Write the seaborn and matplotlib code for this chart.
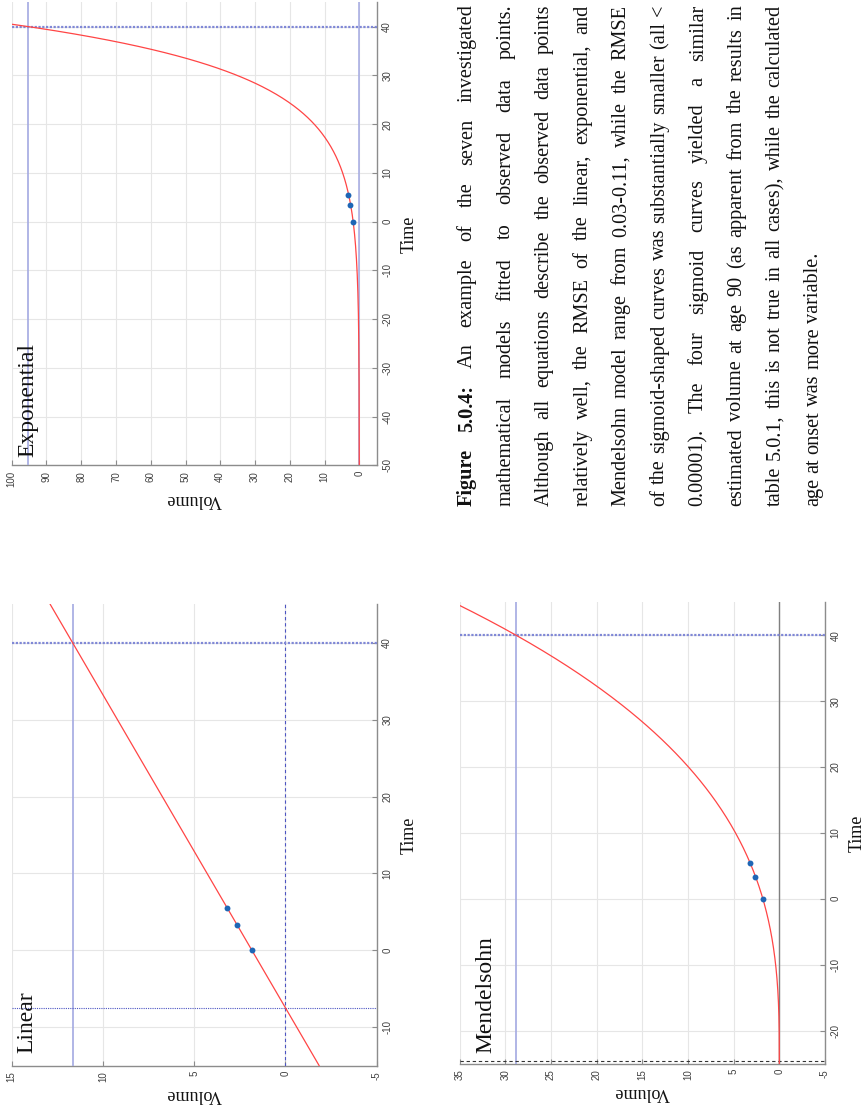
import numpy as np
import pandas as pd
import matplotlib
matplotlib.use("Agg")
import matplotlib.pyplot as plt
import seaborn as sns

# ---------------- data ----------------
time_obs = [0.0, 3.33, 5.5]
vol_obs = [1.82, 2.68, 3.18]
target_time = 40

linear_params = [0.2455, 1.84]          # slope, intercept
exp_params = [1.77, 0.0996]             # a, b   V = a*exp(b t)
mendelsohn_params = [1.8, -24.6, 2.872]  # V(0), onset time, power

linear_vol_target = 11.66
linear_onset = -7.5
exp_vol_target = 95.2
mendelsohn_vol_target = 28.8
mendelsohn_onset = -24.6

linear_vticks = [-5, 0, 5, 10, 15]
linear_tticks = [-10, 0, 10, 20, 30, 40]
exp_vticks = [0, 10, 20, 30, 40, 50, 60, 70, 80, 90, 100]
exp_tticks = [-50, -40, -30, -20, -10, 0, 10, 20, 30, 40]
mend_vticks = [-5, 0, 5, 10, 15, 20, 25, 30, 35]
mend_tticks = [-20, -10, 0, 10, 20, 30, 40]

caption_lines = [
    "Figure 5.0.4: An example of the seven investigated",
    "mathematical models fitted to observed data points.",
    "Although all equations describe the observed data points",
    "relatively well, the RMSE of the linear, exponential, and",
    "Mendelsohn model range from 0.03-0.11, while the RMSE",
    "of the sigmoid-shaped curves was substantially smaller (all <",
    "0.00001). The four sigmoid curves yielded a similar",
    "estimated volume at age 90 (as apparent from the results in",
    "table 5.0.1, this is not true in all cases), while the calculated",
    "age at onset was more variable.",
]

# ---------------- figure ----------------
W_PX, H_PX = 868, 1105
fig = plt.figure(figsize=(W_PX / 100, H_PX / 100), dpi=100)
fig.patch.set_facecolor("white")

SERIF = "Liberation Serif"
SANS = "Liberation Sans"
RED = "#ff4545"
DOT = "#1f66b5"
LIGHTBLUE = "#a3a9e2"
DOTBLUE = "#8088d6"
DARKBLUE = "#4d55c2"
SPINE = "#8c8c8c"


def add_axes_px(left, top, right, bottom):
    return fig.add_axes([left / W_PX, (H_PX - bottom) / H_PX,
                         (right - left) / W_PX, (bottom - top) / H_PX])


def setup(ax, vlim, tlim, vticks, tticks):
    ax.set_xlim(vlim)
    ax.set_ylim(tlim)
    ax.set_facecolor("white")
    ax.set_xticks(vticks)
    ax.set_yticks(tticks)
    ax.set_xticklabels([str(v) for v in vticks], rotation=90, va="top",
                       ha="center", fontsize=7, family=SANS, color="#404040")
    ax.yaxis.tick_right()
    ax.set_yticklabels([str(v) for v in tticks], rotation=90, va="center",
                       ha="left", fontsize=7, family=SANS, color="#404040")
    ax.tick_params(axis="both", direction="in", length=3.5, width=0.8,
                   color=SPINE, pad=4)
    for s in ["top", "left"]:
        ax.spines[s].set_visible(False)
    for s in ["right", "bottom"]:
        ax.spines[s].set_color(SPINE)
        ax.spines[s].set_linewidth(1.0)
    ax.grid(True, color="#e6e6e6", lw=0.8)
    ax.set_axisbelow(True)


def labels(ax):
    ax.set_xlabel("Volume", rotation=180, fontsize=13, family=SERIF,
                  labelpad=3, color="#111111")
    ax.yaxis.set_label_position("right")
    ax.set_ylabel("Time", rotation=90, fontsize=13, family=SERIF,
                  labelpad=6, color="#111111")


def draw_curve(ax, t, v):
    df = pd.DataFrame({"Volume": v, "Time": t})
    sns.lineplot(data=df, x="Volume", y="Time", orient="y", sort=True,
                 estimator=None, color=RED, lw=0.9, ax=ax, zorder=4)


def draw_points(ax):
    df = pd.DataFrame({"Volume": vol_obs, "Time": time_obs})
    sns.scatterplot(data=df, x="Volume", y="Time", color=DOT, s=18,
                    linewidth=0, ax=ax, zorder=5)


def title(x_px, y_px, text):
    fig.text(x_px / W_PX, (H_PX - y_px) / H_PX, text, rotation=90,
             ha="center", va="bottom", fontsize=17, family=SERIF,
             color="#111111")


# ---- Exponential (top-left) ----
ax_e = add_axes_px(11.7, 2.3, 376.7, 465.5)
setup(ax_e, (100, -5), (-50, 45), exp_vticks, exp_tticks)
ax_e.axvline(0, color=LIGHTBLUE, lw=1.1, zorder=3)
ax_e.axvline(exp_vol_target, color=LIGHTBLUE, lw=1.2, zorder=3)
ax_e.axhline(target_time, color=DOTBLUE, lw=1.6, ls=(0, (1, 0.7)), zorder=3)
t_e = np.linspace(-50, 45, 600)
draw_curve(ax_e, t_e, exp_params[0] * np.exp(exp_params[1] * t_e))
draw_points(ax_e)
labels(ax_e)
title(28, 457, "Exponential")

# ---- Linear (bottom-left) ----
ax_l = add_axes_px(11.7, 604.4, 376.7, 1065.5)
setup(ax_l, (15, -5), (-15, 45), linear_vticks, linear_tticks)
ax_l.axvline(linear_vol_target, color=LIGHTBLUE, lw=1.2, zorder=3)
ax_l.axvline(0, color=DARKBLUE, lw=0.8, ls=(0, (3, 2.5)), zorder=3)
ax_l.axhline(linear_onset, color=DARKBLUE, lw=0.8, ls=(0, (1, 1)), zorder=3)
ax_l.axhline(target_time, color=DOTBLUE, lw=1.6, ls=(0, (1, 0.7)), zorder=3)
t_l = np.linspace(-15, 45, 200)
draw_curve(ax_l, t_l, linear_params[0] * t_l + linear_params[1])
draw_points(ax_l)
labels(ax_l)
title(27, 1053, "Linear")

# ---- Mendelsohn (bottom-right) ----
ax_m = add_axes_px(459.5, 602.3, 825.0, 1063.5)
setup(ax_m, (35, -5), (-25, 45), mend_vticks, mend_tticks)
ax_m.axvline(0, color="#808080", lw=1.0, zorder=3)
ax_m.axvline(mendelsohn_vol_target, color=LIGHTBLUE, lw=1.2, zorder=3)
ax_m.axhline(target_time, color=DOTBLUE, lw=1.6, ls=(0, (1, 0.7)), zorder=3)
ax_m.axhline(mendelsohn_onset, color="#333333", lw=0.8, ls=(0, (3, 2.5)),
             zorder=3)
v0, t0, pw = mendelsohn_params
t_m = np.linspace(-25, 45, 600)
v_m = v0 * (np.clip(t_m - t0, 0, None) / (0 - t0)) ** pw
draw_curve(ax_m, t_m, v_m)
draw_points(ax_m)
labels(ax_m)
title(486, 1053, "Mendelsohn")

# ---------------- caption (justified, rotated) ----------------
fig.canvas.draw()
renderer = fig.canvas.get_renderer()

CAP_FS = 14.6
Y_START = 506.5
COL_LEN = 502.0
BASE_X0 = 471.7
LINE_STEP = 38.5


def measure(word, fs, bold):
    t = fig.text(0, 0, word, fontsize=fs, family=SERIF,
                 fontweight="bold" if bold else "normal")
    w = t.get_window_extent(renderer).width
    t.remove()
    return w


for i, line in enumerate(caption_lines):
    words = line.split(" ")
    bold = [(i == 0 and j < 2) for j in range(len(words))]
    fs = CAP_FS
    widths = [measure(w, fs, b) for w, b in zip(words, bold)]
    justified = i < len(caption_lines) - 1
    fs_px = fs * 100 / 72
    if justified:
        min_gap = 0.17 * fs_px
        total = sum(widths)
        avail = COL_LEN - min_gap * (len(words) - 1)
        if total > avail:
            scale = avail / total
            fs = fs * scale
            widths = [measure(w, fs, b) for w, b in zip(words, bold)]
        gap = (COL_LEN - sum(widths)) / (len(words) - 1)
    else:
        gap = 0.25 * fs_px
    y = Y_START
    x = BASE_X0 + LINE_STEP * i
    for w, b, wd in zip(words, bold, widths):
        fig.text(x / W_PX, (H_PX - y) / H_PX, w, rotation=90,
                 rotation_mode="anchor", ha="left", va="baseline",
                 fontsize=fs, family=SERIF,
                 fontweight="bold" if b else "normal", color="#111111")
        y -= wd + gap

fig.savefig("out.png", dpi=100)
